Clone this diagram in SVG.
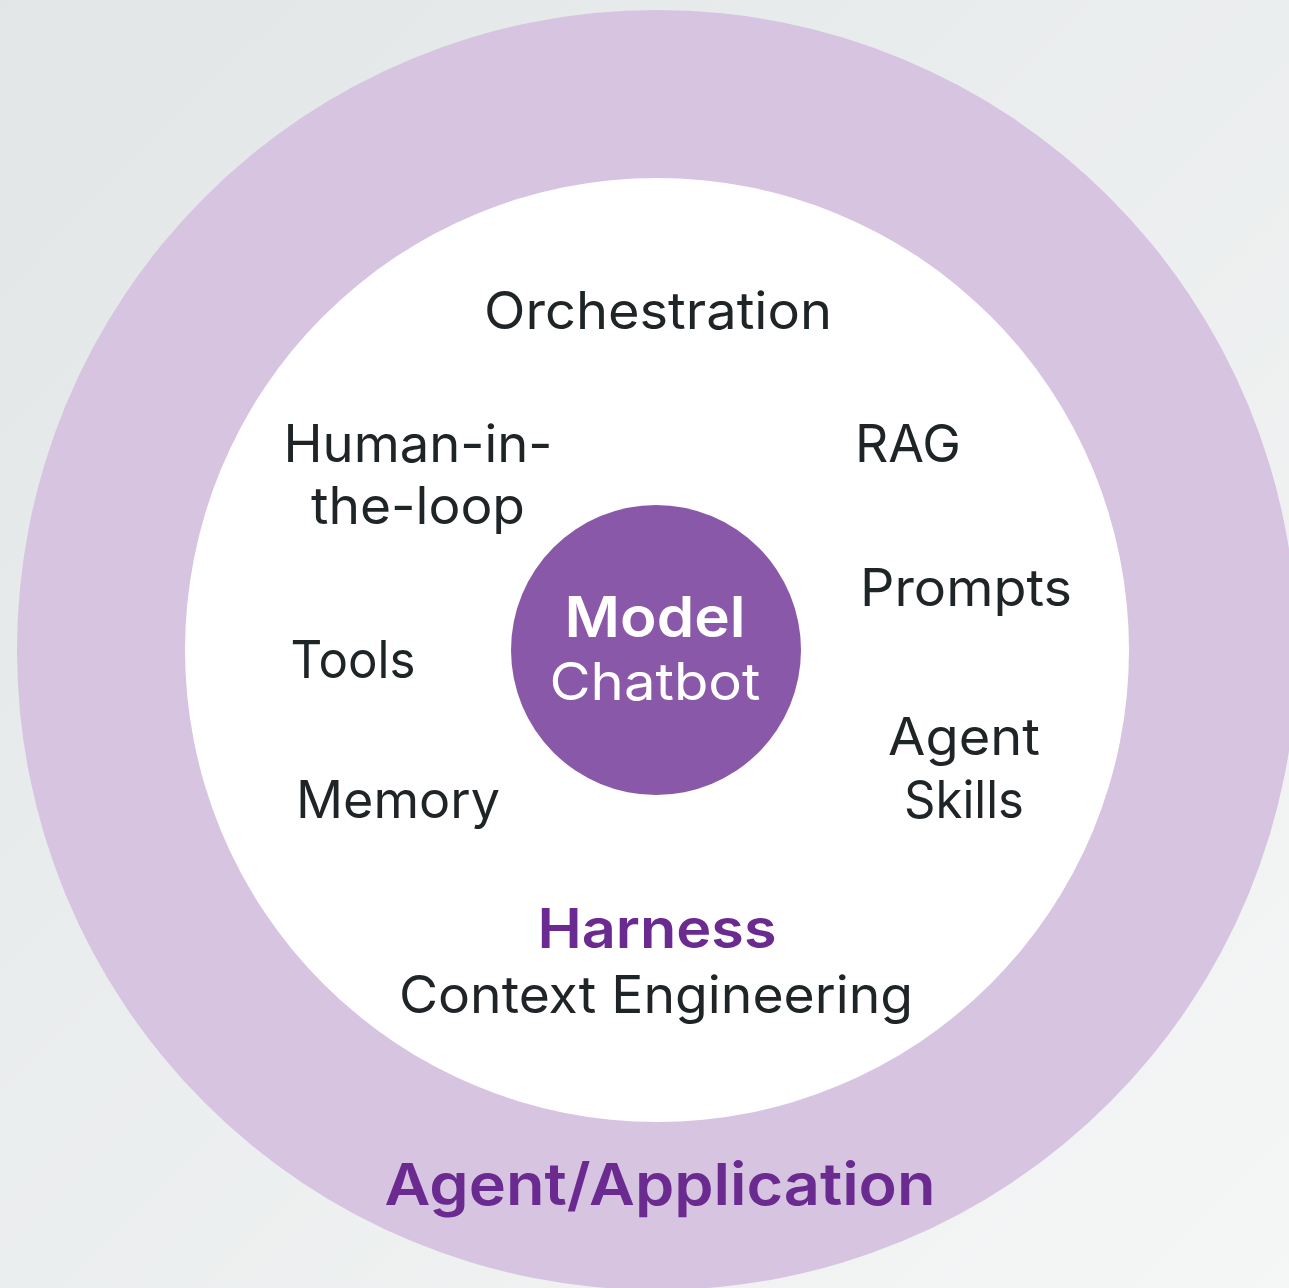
<svg xmlns="http://www.w3.org/2000/svg" width="1289" height="1288" viewBox="0 0 1289 1288">
<defs>
<linearGradient id="bg" x1="0" y1="0" x2="1" y2="1">
<stop offset="0" stop-color="#e2e6e7"/>
<stop offset="1" stop-color="#f5f6f6"/>
</linearGradient>
<style>
.t{font-family:Inter,"Noto Sans","Liberation Sans",sans-serif;font-size:52px;fill:#1f2427;text-anchor:middle;font-weight:400}
.b{font-family:Inter,"Noto Sans","Liberation Sans",sans-serif;font-weight:600;text-anchor:middle}
.w{fill:#ffffff}
.p{fill:#6a2a8f}
</style>
</defs>
<rect width="1289" height="1288" fill="url(#bg)"/>
<g id="agent">
<circle cx="657" cy="650" r="640" fill="#d6c4e1"/>
<text class="b p" x="660" y="1205" font-size="58" textLength="551" lengthAdjust="spacingAndGlyphs">Agent/Application</text>
</g>
<g id="harness">
<circle cx="657" cy="650" r="472" fill="#ffffff"/>
<text class="b p" x="657" y="948" font-size="55" textLength="239" lengthAdjust="spacingAndGlyphs">Harness</text>
<text class="t" x="656" y="1013" textLength="514" lengthAdjust="spacingAndGlyphs">Context Engineering</text>
</g>
<g id="orchestration"><text class="t" x="658" y="329" textLength="348" lengthAdjust="spacingAndGlyphs">Orchestration</text></g>
<g id="human"><text class="t" x="418" y="462" textLength="269" lengthAdjust="spacingAndGlyphs">Human-in-</text><text class="t" x="418" y="524" textLength="214" lengthAdjust="spacingAndGlyphs">the-loop</text></g>
<g id="rag"><text class="t" x="908" y="462" textLength="106" lengthAdjust="spacingAndGlyphs">RAG</text></g>
<g id="prompts"><text class="t" x="966" y="606" textLength="212" lengthAdjust="spacingAndGlyphs">Prompts</text></g>
<g id="tools"><text class="t" x="353" y="678" textLength="125" lengthAdjust="spacingAndGlyphs">Tools</text></g>
<g id="skills"><text class="t" x="964" y="755" textLength="152" lengthAdjust="spacingAndGlyphs">Agent</text><text class="t" x="964" y="818" textLength="120" lengthAdjust="spacingAndGlyphs">Skills</text></g>
<g id="memory"><text class="t" x="398" y="818" textLength="204" lengthAdjust="spacingAndGlyphs">Memory</text></g>
<g id="model">
<circle cx="656" cy="650" r="145" fill="#8a58a8"/>
<text class="b w" x="655" y="637" font-size="56" textLength="181" lengthAdjust="spacingAndGlyphs">Model</text>
<text class="t w" x="655" y="700" textLength="211" lengthAdjust="spacingAndGlyphs">Chatbot</text>
</g>
<g id="connectors"/>
</svg>
